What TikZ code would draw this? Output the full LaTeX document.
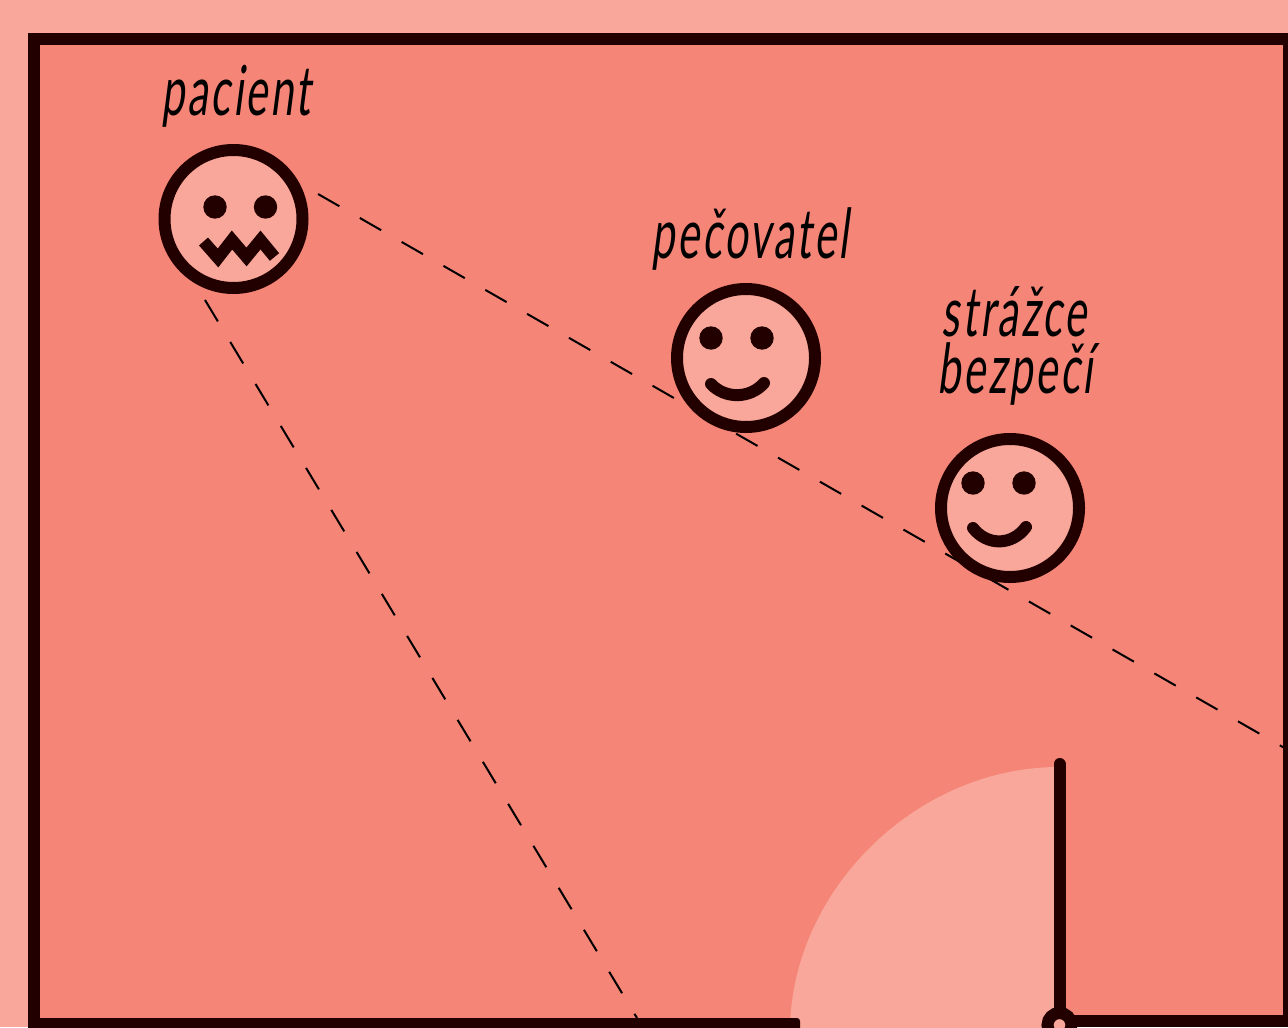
\documentclass[tikz,border=0pt]{standalone}
\usepackage{fontspec}
\newfontfamily\lab[FakeSlant=0.13,FakeStretch=0.6,LetterSpace=4]{Lato}
\definecolor{bglight}{HTML}{F8A79A}
\definecolor{bgmid}{HTML}{F48577}
\definecolor{ink}{HTML}{230000}
\tikzset{
  px/.style={x=0.5pt,y=-0.5pt},
  wall/.style={draw=ink,line width=6pt,line cap=round,line join=miter},
  sightone/.style={draw=black,line width=1pt,dash pattern=on 12.3pt off 11.8pt},
  sighttwo/.style={draw=black,line width=1pt,dash pattern=on 12.5pt off 12pt},
  face/.style={circle,draw=ink,fill=bglight,line width=6pt,minimum size=69pt,inner sep=0pt},
  eye/.style={circle,fill=ink,minimum size=11.7pt,inner sep=0pt},
  smile/.style={draw=ink,line width=6pt,line cap=round},
  label/.style={font=\lab\fontsize{34.5}{34.5}\selectfont,text=black,align=center,inner sep=0pt}
}
\begin{document}
\begin{tikzpicture}[px]
\clip (0,0) rectangle (1288,1027);
\fill[bglight] (0,0) rectangle (1288,1027);
\fill[bgmid] (34,39) rectangle (1294,1024);
% door swing
\fill[bglight] (1059,767) .. controls (915,767) and (790,892) .. (790,1032) -- (1059,1032) -- cycle;
% sight lines
\coordinate (s1a) at (318,194); \coordinate (s1b) at (1288,750);
\coordinate (s2a) at (205,300); \coordinate (s2b) at (637,1018);
\draw[sightone] (s1a) -- (s1b);
\draw[sighttwo] (s2a) -- (s2b);
% walls
\coordinate (w2) at (34,1024); \coordinate (w3) at (34,39);
\coordinate (w4) at (1289,39); \coordinate (w5) at (1289,1021); \coordinate (hinge) at (1060,1021);
\coordinate (doortop) at (1059.5,764);
\draw[wall,line cap=butt] (1294,39) -- (w3) -- (w2) -- (788,1024);
\draw[wall,line cap=butt] (1294,1021) -- (w5) -- (w4);
\fill[ink,rounded corners=1.5pt] (780,1018) rectangle (800,1040);
\draw[wall,line cap=butt] (w5) -- (hinge);
\node[circle,draw=ink,fill=bglight,line width=6pt,minimum size=12pt,inner sep=0pt] (hingeknob) at (1059.5,1025) {};
\draw[wall] (doortop) -- (1059.5,1012);
% patient
\node[face] (patient) at (233.5,219) {};
\node[eye] (pe1) at (215,207) {};
\node[eye] (pe2) at (265.5,207) {};
\draw[draw=ink,line width=6pt,line cap=butt,line join=miter] (203.5,241.5) -- (218,258) -- (232,240) -- (246.5,257) -- (260.5,240) -- (274.5,257);
\node[label,anchor=base] (tpatient) at (236,116) {pacient};
% carer
\node[face] (carer) at (746,358) {};
\node[eye] (ce1) at (711,338) {};
\node[eye] (ce2) at (762,338) {};
\draw[smile] (711,384) .. controls (725,399) and (750,399) .. (764,383);
\node[label,anchor=base] (tcarer) at (750,258) {pečovatel};
% guard
\node[face] (guard) at (1010,508) {};
\node[eye] (ge1) at (973,483) {};
\node[eye] (ge2) at (1024,483) {};
\draw[smile] (973,528) .. controls (987,546) and (1012,546) .. (1026,527);
\node[label,anchor=base] (tguard1) at (1014,336) {strážce};
\node[label,anchor=base] (tguard2) at (1015,393) {bezpečí};
\end{tikzpicture}
\end{document}
